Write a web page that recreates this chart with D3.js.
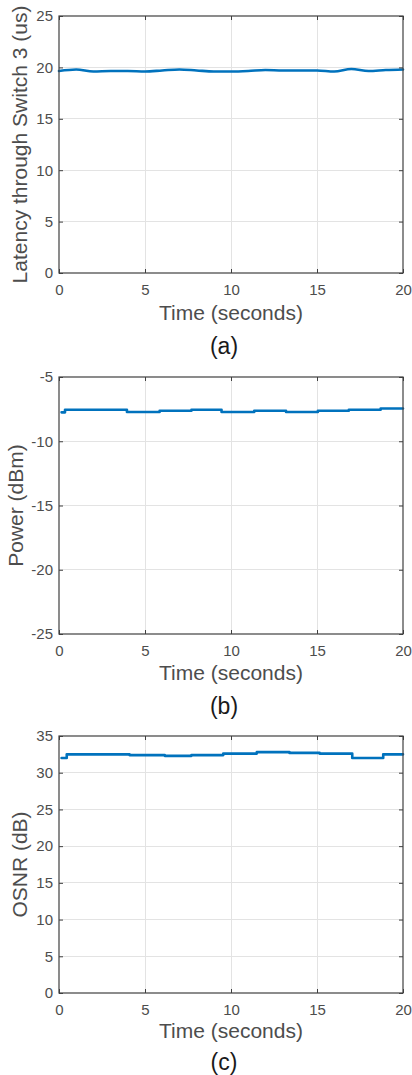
<!DOCTYPE html>
<html>
<head>
<meta charset="utf-8">
<script src="https://cdn.jsdelivr.net/npm/d3@7"></script>
<style>
html,body{margin:0;padding:0;background:#fff;}
svg{display:block;font-family:"Liberation Sans",Arial,sans-serif;}
</style>
</head>
<body>
<svg id="chart" width="412" height="1075"></svg>
<script>
// ---- data ----
const xTicks = [0, 5, 10, 15, 20];

const latencyTime = [0,1,2,3,4,5,6,7,8,9,10,11,12,13,14,15,16,17,18,19,20];
const latencyValues = [19.65,19.8,19.6,19.65,19.65,19.6,19.7,19.8,19.7,19.6,19.6,19.65,19.75,19.7,19.7,19.7,19.6,19.85,19.65,19.75,19.8];
const latencyTicks = [0, 5, 10, 15, 20, 25];

const powerTime = [0.15, 0.35, 3.95, 5.85, 7.7, 9.45, 11.35, 13.2, 15.05, 16.85, 18.7, 20];
const powerValues = [-7.75, -7.55, -7.72, -7.63, -7.55, -7.72, -7.63, -7.72, -7.63, -7.55, -7.45, -7.45];
const powerTicks = [-25, -20, -15, -10, -5];

const osnrTime = [0.15, 0.45, 4.1, 6.15, 7.7, 9.55, 11.5, 13.4, 15.15, 17.05, 18.85, 20];
const osnrValues = [32.0, 32.5, 32.4, 32.3, 32.4, 32.6, 32.8, 32.7, 32.6, 32.0, 32.5, 32.5];
const osnrTicks = [0, 5, 10, 15, 20, 25, 30, 35];

const yLabels = ["Latency through Switch 3 (us)", "Power (dBm)", "OSNR (dB)"];
const xLabel = "Time (seconds)";
const panelLabels = ["(a)", "(b)", "(c)"];

// ---- layout ----
const svg = d3.select("#chart");
const left = 59, right = 403, ph = 257;
const panels = [
  {top:16, t:latencyTime, v:latencyValues, ticks:latencyTicks, domain:[0,25], curve:d3.curveMonotoneX, ylab:yLabels[0], ylx:27, tlOff:22, xlOff:47, plOff:81},
  {top:377, t:powerTime, v:powerValues, ticks:powerTicks, domain:[-25,-5], curve:d3.curveStepAfter, ylab:yLabels[1], ylx:23, tlOff:22, xlOff:46, plOff:80},
  {top:736, t:osnrTime, v:osnrValues, ticks:osnrTicks, domain:[0,35], curve:d3.curveStepAfter, ylab:yLabels[2], ylx:27, tlOff:22, xlOff:45, plOff:77}
];
const textCol = "#4d4d4d", axisCol = "#404040", gridCol = "#e3e3e3", lineCol = "#0072BD";
const fmt = d => String(d);

panels.forEach((p, i) => {
  const bottom = p.top + ph;
  const x = d3.scaleLinear().domain([0,20]).range([left,right]);
  const y = d3.scaleLinear().domain(p.domain).range([bottom,p.top]);
  const g = svg.append("g");

  // grid
  g.selectAll(".gx").data(xTicks.slice(1,-1)).join("line")
    .attr("x1", d=>x(d)).attr("x2", d=>x(d)).attr("y1", p.top).attr("y2", bottom)
    .attr("stroke", gridCol).attr("stroke-width",1).attr("shape-rendering","crispEdges");
  g.selectAll(".gy").data(p.ticks.slice(1,-1)).join("line")
    .attr("x1", left).attr("x2", right).attr("y1", d=>y(d)).attr("y2", d=>y(d))
    .attr("stroke", gridCol).attr("stroke-width",1).attr("shape-rendering","crispEdges");

  // line
  const line = d3.line().x((d,j)=>x(p.t[j])).y(d=>y(d)).curve(p.curve);
  g.append("path").datum(p.v).attr("d", line)
    .attr("fill","none").attr("stroke", lineCol).attr("stroke-width",2.6)
    .attr("stroke-linejoin","round").attr("stroke-linecap","round");

  // axes via d3.axis (inward ticks)
  const ax = (axis, tr) => {
    const a = g.append("g").attr("transform", tr).call(axis);
    a.select(".domain").remove();
    a.selectAll("line").attr("stroke", axisCol);
    a.selectAll("text").attr("fill", textCol).style("font-size","15px").style("font-family","Liberation Sans, Arial, sans-serif");
    return a;
  };
  const xb = ax(d3.axisBottom(x).tickValues(xTicks).tickSize(-4).tickPadding(10).tickFormat(fmt), `translate(0,${bottom})`);
  xb.selectAll("text").attr("dy", null).attr("y", p.tlOff);
  ax(d3.axisTop(x).tickValues(xTicks).tickSize(-4).tickFormat(""), `translate(0,${p.top})`);
  ax(d3.axisLeft(y).tickValues(p.ticks).tickSize(-4).tickPadding(6).tickFormat(fmt), `translate(${left},0)`);
  ax(d3.axisRight(y).tickValues(p.ticks).tickSize(-4).tickFormat(""), `translate(${right},0)`);

  // box
  g.append("rect").attr("x",left).attr("y",p.top).attr("width",right-left).attr("height",ph)
    .attr("fill","none").attr("stroke",axisCol).attr("stroke-width",1.2);

  // labels
  g.append("text").attr("x",(left+right)/2).attr("y",bottom+p.xlOff)
    .attr("text-anchor","middle").attr("fill",textCol).style("font-size","21px").text(xLabel);
  g.append("text").attr("transform",`translate(${p.ylx},${(p.top+bottom)/2}) rotate(-90)`)
    .attr("text-anchor","middle").attr("fill",textCol).style("font-size","21px").text(p.ylab);
  g.append("text").attr("x",224).attr("y",bottom+p.plOff)
    .attr("text-anchor","middle").attr("fill","#1a1a1a").style("font-size","23px").text(panelLabels[i]);
});
</script>
</body>
</html>
